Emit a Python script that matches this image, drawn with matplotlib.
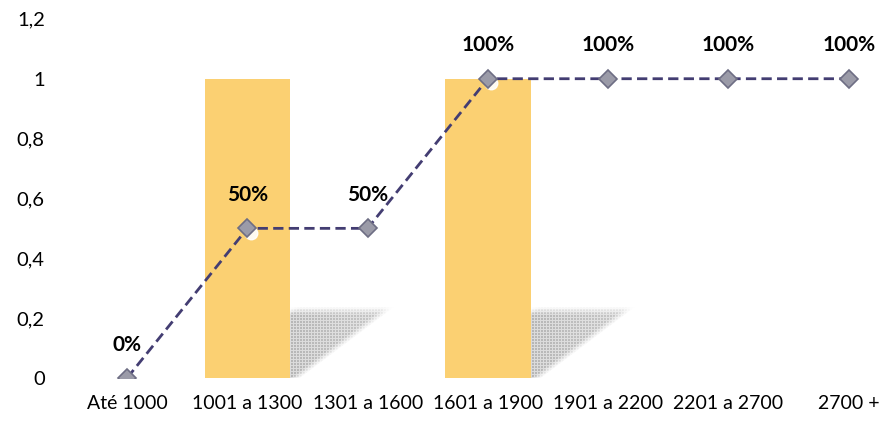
import matplotlib
matplotlib.use("Agg")
import matplotlib.pyplot as plt
import numpy as np
from matplotlib.patches import Polygon
from matplotlib.ticker import FuncFormatter

categories = ["Até 1000", "1001 a 1300", "1301 a 1600", "1601 a 1900",
              "1901 a 2200", "2201 a 2700", "2700 +"]
bar_values = [0, 1, 0, 1, 0, 0, 0]
line_values = [0, 0.5, 0.5, 1, 1, 1, 1]
y_ticks = [0, 0.2, 0.4, 0.6, 0.8, 1.0, 1.2]

plt.rcParams["font.family"] = ["Lato", "DejaVu Sans"]

BAR_COLOR = "#FBD072"
LINE_COLOR = "#433D72"
BAR_WIDTH = 0.71

fig = plt.figure(figsize=(8.85, 4.25), dpi=100)
ax = fig.add_axes([0.0757, 0.1106, 0.924, 0.845])
x = np.arange(len(categories))

ax.bar(x, bar_values, width=BAR_WIDTH, color=BAR_COLOR, zorder=2)


def soft_shadow(ax, left):
    # grainy perspective shadow cast to the back-right of a bar
    top, depth, foot = 0.24, 0.88, 0.09
    verts = [(left, 0), (left + foot, 0), (left + depth, top), (left, top)]
    poly = Polygon(verts, closed=True, facecolor="none", edgecolor="none")
    ax.add_patch(poly)
    rows, cols = 72, 106
    u = np.linspace(0, 1, cols)[None, :]
    v = np.linspace(0, 1, rows)[:, None]
    edge = foot / depth + (1 - foot / depth) * v
    fade = np.clip((edge - u) / 0.1, 0, 1) * np.clip((1 - v) / 0.12, 0, 1)
    fade = fade * np.clip((u + (1 - v)) / 0.12, 0, 1)
    alpha = 0.75 * fade * (1 - 0.25 * u)
    yy, xx = np.indices((rows, cols))
    grain = np.where((xx % 3 == 0) | (yy % 3 == 0), 0.5, 1.0)
    rgba = np.zeros((rows, cols, 4))
    rgba[..., :3] = 0.62
    rgba[..., 3] = np.clip(alpha * grain, 0, 1)
    im = ax.imshow(rgba, extent=(left, left + depth, 0, top), origin="lower",
                   interpolation="nearest", aspect="auto", zorder=1)
    im.set_clip_path(poly)


for xi, val in zip(x, bar_values):
    if val > 0:
        soft_shadow(ax, xi + BAR_WIDTH / 2)

# faint white glow under each marker
ax.plot(x + 0.03, np.array(line_values) - 0.014, linestyle="none", marker="o",
        markersize=9, color="white", alpha=0.9, zorder=3)
ax.plot(x, line_values, linestyle=(0, (3.7, 1.9)), color=LINE_COLOR, linewidth=2,
        marker="D", markersize=9, markerfacecolor="#9B9BA8",
        markeredgecolor="#6E6E84", markeredgewidth=1.2, zorder=4)

for xi, val in zip(x, line_values):
    ax.annotate(f"{val:.0%}", (xi, val), xytext=(0, 24), textcoords="offset points",
                ha="center", va="center", fontsize=15, fontweight="bold", color="black")

ax.set_xlim(-0.5, 6.3)
ax.set_ylim(0, 1.2)
ax.set_xticks(x)
ax.set_xticklabels(categories, fontsize=14)
ax.set_yticks(y_ticks)
ax.yaxis.set_major_formatter(FuncFormatter(lambda v, _: f"{v:g}".replace(".", ",")))
ax.tick_params(axis="y", length=0, pad=16, labelsize=14.5)
ax.tick_params(axis="x", length=0, pad=12)
for spine in ax.spines.values():
    spine.set_visible(False)

fig.savefig("out.png", dpi=100)
